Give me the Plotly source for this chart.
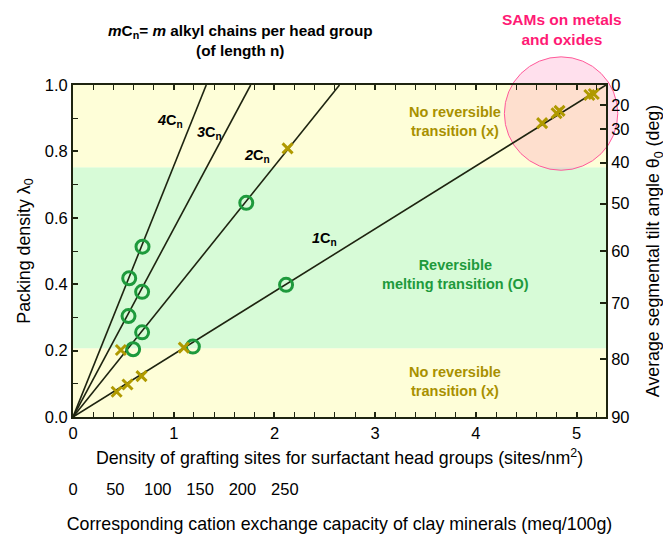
import numpy as np
import plotly.graph_objects as go

# ---------------- data ----------------
chain_counts = [1, 2, 3, 4]            # m in mC_n
chain_area = 0.189                      # nm^2 per alkyl chain (slope of 1C_n line)

# reversible melting transition (O)
melt_x = [0.558, 0.686, 0.551, 0.686, 0.597, 1.19, 2.115, 0.69, 1.72]
melt_y = [0.418, 0.377, 0.304, 0.255, 0.204, 0.212, 0.398, 0.513, 0.645]

# no reversible transition (x)
norev_x = [0.433, 0.541, 0.68, 1.10, 0.475, 2.13, 4.657, 4.80, 4.83, 5.126, 5.17]
norev_y = [0.076, 0.098, 0.123, 0.209, 0.202, 0.809, 0.885, 0.915, 0.922, 0.970, 0.973]

# regions of packing density
band_low = [0.0, 0.207]
band_mid = [0.207, 0.752]
band_high = [0.752, 1.0]

tilt_ticks = [0, 20, 30, 40, 50, 60, 70, 80, 90]
cec_ticks = [0, 50, 100, 150, 200, 250]
cec_to_density = 0.00841  # sites/nm^2 per meq/100g

x_max = 1.0 / chain_area

# ---------------- layout geometry (reference pixels) ----------------
OFF = 8                      # page body margin
W, H = 671 - OFF, 537 - OFF
L, R, T, B = 73, 606, 85, 417
PB = 477                     # paper bottom (reference pixels)
paper_h = PB - T
ydom0 = (PB - B) / paper_h
FONT = "Liberation Sans, Arial, sans-serif"

def px_x(xd):
    return L + xd / x_max * (R - L)

def px_y(yd):
    return B - yd * (B - T)

def paper_x(px):
    return (px - L) / (R - L)

def paper_y(py):
    return (PB - py) / paper_h

YEL = "#FEFED8"
GRN = "#D7FBD7"
GOLD = "#B09A00"
GTEXT = "#A89000"
GREEN = "#1E9A3C"
DARK = "#1E2410"

fig = go.Figure()

# model lines lambda = m * a * sigma
for m in chain_counts:
    fig.add_trace(go.Scatter(x=[0, 1.0 / (m * chain_area)], y=[0, 1.0], mode="lines",
                             line=dict(color=DARK, width=1.6), showlegend=False,
                             hoverinfo="skip"))

fig.add_trace(go.Scatter(x=melt_x, y=melt_y, mode="markers", showlegend=False,
                         marker=dict(symbol="circle-open", size=13, color=GREEN,
                                     line=dict(width=3, color=GREEN))))
fig.add_trace(go.Scatter(x=norev_x, y=norev_y, mode="markers", showlegend=False,
                         marker=dict(symbol="x-thin-open", size=10, color=GOLD,
                                     line=dict(width=3, color=GOLD))))

# dummy traces to activate secondary axes
fig.add_trace(go.Scatter(x=[None], y=[None], xaxis="x2", yaxis="y", showlegend=False, hoverinfo="skip"))
fig.add_trace(go.Scatter(x=[None], y=[None], xaxis="x", yaxis="y2", showlegend=False, hoverinfo="skip"))

# background bands (paper refs so that the circle can sit between them and the data)
shapes = []
for (y0, y1), col in [(band_low, YEL), (band_mid, GRN), (band_high, YEL)]:
    shapes.append(dict(type="rect", xref="paper", yref="paper", x0=0, x1=1,
                       y0=paper_y(px_y(y0)), y1=paper_y(px_y(y1)),
                       fillcolor=col, line=dict(width=0), layer="below"))
# SAMs circle
cx, cy, rad = px_x(4.845), px_y(0.914), 56.7
shapes.append(dict(type="circle", xref="paper", yref="paper",
                   x0=paper_x(cx - rad), x1=paper_x(cx + rad),
                   y0=paper_y(cy + rad), y1=paper_y(cy - rad),
                   fillcolor="rgba(255,110,170,0.21)", line=dict(color="#FF5A9A", width=1),
                   layer="below"))
fig.update_layout(shapes=shapes)

anns = []
def ann(text, xd, yd, size=13, color="black", **kw):
    anns.append(dict(text=text, x=xd, y=yd, xref="x", yref="y", showarrow=False,
                     xanchor="center", yanchor="middle",
                     font=dict(family=FONT, size=size, color=color), **kw))

def ann_px(text, px, py, size=13, color="black", **kw):
    anns.append(dict(text=text, x=paper_x(px), y=paper_y(py), xref="paper", yref="paper",
                     showarrow=False, xanchor="center", yanchor="middle",
                     font=dict(family=FONT, size=size, color=color), **kw))

ann_px("<b><i>m</i>C<sub>n</sub>= <i>m</i> alkyl chains per head group<br>(of length n)</b>", 240, 41, size=15.3)
ann_px("<b>SAMs on metals<br>and oxides</b>", 562, 29, size=15.5, color="#FF1A75")

def dx(px):
    return (px - L) / (R - L) * x_max

def dy(py):
    return (B - py) / (B - T)

ann("<b><i>4</i>C<sub>n</sub></b>", dx(170), dy(121), size=14.5)
ann("<b><i>3</i>C<sub>n</sub></b>", dx(209), dy(133), size=14.5)
ann("<b><i>2</i>C<sub>n</sub></b>", dx(257), dy(156), size=14.5)
ann("<b><i>1</i>C<sub>n</sub></b>", dx(324), dy(239), size=14.5)

ann("<b>No reversible<br>transition (x)</b>", dx(455), dy(121), size=14.5, color=GTEXT)
ann("<b>Reversible<br>melting transition (O)</b>", dx(455), dy(274), size=14.5, color=GREEN)
ann("<b>No reversible<br>transition (x)</b>", dx(455), dy(381), size=14.5, color=GTEXT)
fig.update_layout(annotations=anns)

tickfont = dict(family=FONT, size=16.5, color="black")
titlefont = dict(family=FONT, size=17.8, color="black")
fig.update_layout(
    width=W, height=H,
    margin=dict(l=L - OFF, r=W - (R - OFF), t=T - OFF, b=H - (PB - OFF), pad=0),
    paper_bgcolor="white", plot_bgcolor="rgba(0,0,0,0)",
    font=dict(family=FONT, size=16, color="black"),
    xaxis=dict(range=[0, x_max], domain=[0, 1], anchor="y", tickmode="linear", tick0=0, dtick=1,
               ticks="inside", ticklen=5, tickwidth=1.5, tickcolor=DARK, automargin=False,
               minor=dict(dtick=0.2, ticks="inside", ticklen=5, tickwidth=1.2, tickcolor=DARK),
               showline=True, linecolor=DARK, linewidth=1.8, mirror="ticks",
               showgrid=False, zeroline=False, tickfont=tickfont,
               title=dict(text="Density of grafting sites for surfactant head groups (sites/nm<sup>2</sup>)",
                          font=titlefont, standoff=11)),
    yaxis=dict(range=[0, 1], domain=[ydom0, 1], anchor="x", tickmode="linear", tick0=0, dtick=0.2,
               tickformat=".1f", ticks="inside", ticklen=5, tickwidth=1.5, tickcolor=DARK,
               automargin=False,
               minor=dict(dtick=0.1, ticks="inside", ticklen=5, tickwidth=1.2, tickcolor=DARK),
               showline=True, linecolor=DARK, linewidth=1.8, mirror=False,
               showgrid=False, zeroline=False, tickfont=tickfont,
               title=dict(text="Packing density λ<sub>0</sub>", font=titlefont, standoff=10)),
    yaxis2=dict(range=[0, 1], overlaying="y", side="right", anchor="x", automargin=False,
                tickmode="array", tickvals=[float(np.cos(np.radians(t))) for t in tilt_ticks],
                ticktext=[str(t) for t in tilt_ticks],
                ticks="inside", ticklen=6, tickwidth=1.5, tickcolor=DARK,
                showline=True, linecolor=DARK, linewidth=1.8, showgrid=False, zeroline=False,
                tickfont=tickfont,
                title=dict(text="Average segmental tilt angle θ<sub>0</sub> (deg)", font=titlefont,
                           standoff=18)),
    xaxis2=dict(range=[0, x_max / cec_to_density], overlaying="x", anchor="free", position=0,
                side="bottom", tickmode="array", tickvals=cec_ticks, automargin=False,
                ticktext=[str(v) for v in cec_ticks], ticks="", showline=False,
                showgrid=False, zeroline=False, tickfont=tickfont,
                title=dict(text="Corresponding cation exchange capacity of clay minerals (meq/100g)",
                           font=titlefont, standoff=21)),
)

fig.write_html("out.html")
